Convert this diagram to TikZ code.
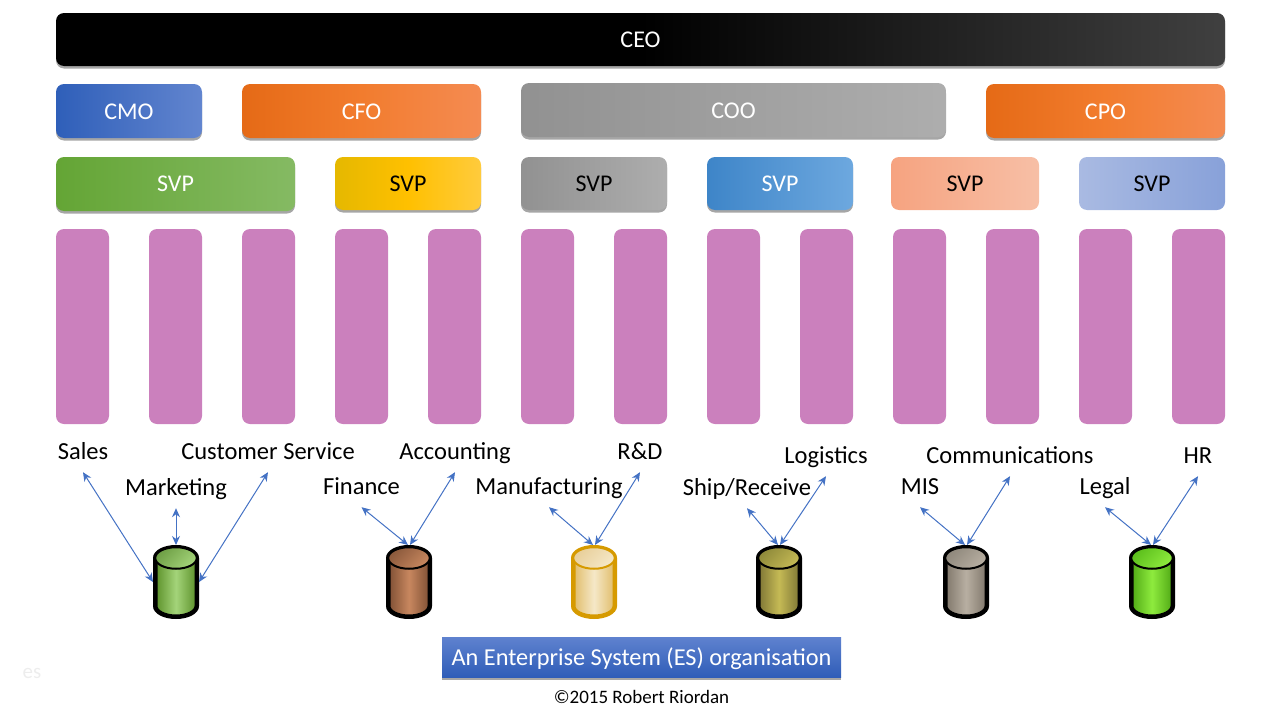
\documentclass[tikz,border=0pt]{standalone}
\usepackage{fontspec}
\setmainfont{Carlito}
\usetikzlibrary{positioning, arrows.meta, shadows}
\definecolor{Veza}{HTML}{4472C4}
\definecolor{Odjel}{HTML}{CB80BD}
\definecolor{NarA}{HTML}{E56A16}
\definecolor{NarB}{HTML}{F27C2E}
\definecolor{NarC}{HTML}{F48B52}
\definecolor{ZelA}{HTML}{5B9028}
\definecolor{ZelB}{HTML}{A4D47A}
\definecolor{ZelC}{HTML}{6E9F45}
\definecolor{SmeA}{HTML}{7E4F34}
\definecolor{SmeB}{HTML}{C8875F}
\definecolor{SmeC}{HTML}{8B5A3C}
\definecolor{ZutA}{HTML}{E0BC68}
\definecolor{ZutB}{HTML}{F5E8C8}
\definecolor{ZutC}{HTML}{E8CF9A}
\definecolor{ZutD}{HTML}{D69A00}
\definecolor{MasA}{HTML}{7D7535}
\definecolor{MasB}{HTML}{C5BA55}
\definecolor{MasC}{HTML}{8F8A3A}
\definecolor{SivA}{HTML}{7F766A}
\definecolor{SivB}{HTML}{B8AFA2}
\definecolor{SivC}{HTML}{8F887C}
\definecolor{SvjA}{HTML}{4FA815}
\definecolor{SvjB}{HTML}{8EEB3E}
\definecolor{SvjC}{HTML}{5CBF1C}
\tikzset{
  sjena/.style   = {drop shadow={shadow xshift=0pt, shadow yshift=-2.5pt, opacity=.35, fill=black}},
  kutija/.style  = {rectangle, rounded corners=8pt, inner sep=0pt, outer sep=0pt, align=center,
                    font=\fontsize{24}{28}\selectfont},
  clan/.style    = {kutija, sjena, text=white, minimum height=54pt},
  nizi/.style    = {text height=17.5pt, text depth=0pt},
  narancasta/.style = {clan, nizi, minimum width=239pt, left color=NarA, right color=NarC, middle color=NarB},
  svp/.style     = {kutija, minimum width=146pt, minimum height=53pt},
  odjel/.style   = {rectangle, rounded corners=8pt, fill=Odjel, minimum width=53pt,
                    minimum height=195pt, inner sep=0pt, outer sep=0pt},
  oznaka/.style  = {inner sep=0pt, minimum height=40pt, text height=17pt, text depth=3pt,
                    font=\fontsize{24.5}{28}\selectfont},
  baza/.style    = {rectangle, inner sep=0pt, outer sep=0pt, minimum width=46pt, minimum height=74pt},
  veza/.style    = {{Stealth[length=9pt, width=8pt]}-{Stealth[length=9pt, width=8pt]}, draw=Veza, line width=1pt},
}
% tijelo i poklopac baze: cvor, obrub, rub, sredina, poklopac
\newcommand{\valjak}[5]{
  \draw[draw=#2, line width=4.5pt, left color=#3, right color=#3, middle color=#4]
    ([xshift=-20.75pt, yshift=24pt]#1.center) -- ([xshift=-20.75pt, yshift=-24pt]#1.center)
    arc[start angle=180, end angle=360, x radius=20.75pt, y radius=10.75pt]
    -- ([xshift=20.75pt, yshift=24pt]#1.center)
    arc[start angle=0, end angle=180, x radius=20.75pt, y radius=10.75pt] -- cycle;
  \draw[draw=#2, line width=2pt, top color=#5, bottom color=#4, shading angle=45]
    ([yshift=24pt]#1.center) ellipse (20.75pt and 10.75pt);
}

\begin{document}
\begin{tikzpicture}[x=1pt, y=-1pt]
  \useasboundingbox (0,0) rectangle (1280,720);

  % uprava
  \node[clan, minimum width=1169pt, minimum height=53pt, left color=black, right color=black!75, middle color=black]
        (ceo) at (640.5,39.5) {CEO};
  \node[clan, nizi, minimum width=146pt, left color={rgb,255:red,47;green,95;blue,185}, right color={rgb,255:red,98;green,133;blue,207},
        below right=18pt and 0pt of ceo.south west]           (cmo) {CMO};
  \node[narancasta, right=40pt of cmo]                        (cfo) {CFO};
  \node[clan, nizi, minimum width=425pt, left color=black!43, right color=black!32, right=40pt of cfo, yshift=1pt] (coo) {COO};
  \node[narancasta, right=40pt of coo, yshift=-1pt]           (cpo) {CPO};

  % potpredsjednici
  \node[svp, sjena, minimum width=239pt, minimum height=54pt, text=white,
        left color={rgb,255:red,100;green,165;blue,53}, right color={rgb,255:red,133;green,186;blue,99}]
        (svp1) at (175.5,184) {SVP};
  \node[svp, sjena, left color={rgb,255:red,229;green,184;blue,0}, right color={rgb,255:red,255;green,203;blue,61},
        middle color={rgb,255:red,255;green,192;blue,0}]      (svp2) at (408,183.5) {SVP};
  \node[svp, sjena, left color=black!43, right color=black!32, right=40pt of svp2] (svp3) {SVP};
  \node[svp, sjena, text=white, left color={rgb,255:red,62;green,133;blue,200},
        right color={rgb,255:red,109;green,168;blue,223}, right=40pt of svp3]      (svp4) {SVP};
  \node[svp, minimum width=148pt, left color={rgb,255:red,246;green,163;blue,128},
        right color={rgb,255:red,247;green,191;blue,166}, right=38pt of svp4]      (svp5) {SVP};
  \node[svp, left color={rgb,255:red,169;green,186;blue,226},
        right color={rgb,255:red,136;green,161;blue,217}, right=40pt of svp5]      (svp6) {SVP};

  % odjeli
  \node[odjel]                 (o1) at (82.5,326.5) {};
  \node[odjel, right=40pt of o1]   (o2) {};
  \node[odjel, right=40pt of o2]   (o3) {};
  \node[odjel, right=40pt of o3]   (o4) {};
  \node[odjel, right=40pt of o4]   (o5) {};
  \node[odjel, right=40pt of o5]   (o6) {};
  \node[odjel, right=40pt of o6]   (o7) {};
  \node[odjel, right=40pt of o7]   (o8) {};
  \node[odjel, right=40pt of o8]   (o9) {};
  \node[odjel, right=40pt of o9]   (o10) {};
  \node[odjel, right=40pt of o10]  (o11) {};
  \node[odjel, right=40pt of o11]  (o12) {};
  \node[odjel, right=40pt of o12]  (o13) {};

  % oznake
  \node[oznaka] (sales)   at (83,452)    {Sales};
  \node[oznaka] (mark)    at (176,488)   {Marketing};
  \node[oznaka] (cust)    at (268,452)   {Customer Service};
  \node[oznaka] (fin)     at (361.5,487) {Finance};
  \node[oznaka] (acc)     at (455,452)   {Accounting};
  \node[oznaka] (manu)    at (549,487)   {Manufacturing};
  \node[oznaka] (rd)      at (640,452)   {R\&D};
  \node[oznaka] (ship)    at (747,488)   {Ship/Receive};
  \node[oznaka] (logi)    at (826,456)   {Logistics};
  \node[oznaka] (mis)     at (920,487)   {MIS};
  \node[oznaka] (comm)    at (1010,456)  {Communications};
  \node[oznaka] (legal)   at (1105,487)  {Legal};
  \node[oznaka] (hr)      at (1198,456)  {HR};

  % baze
  \node[baza] (db1) at (176,582) {};
  \node[baza] (db2) at (409,582) {};
  \node[baza] (db3) at (594,582) {};
  \node[baza] (db4) at (779,582) {};
  \node[baza] (db5) at (966,582) {};
  \node[baza] (db6) at (1152,582) {};
  \valjak{db1}{black}{ZelA}{ZelB}{ZelC}
  \valjak{db2}{black}{SmeA}{SmeB}{SmeC}
  \valjak{db3}{ZutD}{ZutA}{ZutB}{ZutC}
  \valjak{db4}{black}{MasA}{MasB}{MasC}
  \valjak{db5}{black}{SivA}{SivB}{SivC}
  \valjak{db6}{black}{SvjA}{SvjB}{SvjC}

  \draw[veza] (sales.south) -- (db1.west);
  \draw[veza] (mark.south)  -- (db1.north);
  \draw[veza] (cust.south)  -- (db1.east);
  \draw[veza] (fin.south)   -- ([xshift=-1pt]db2.north);
  \draw[veza] (acc.south)   -- ([xshift=1pt]db2.north);
  \draw[veza] (manu.south)  -- ([xshift=-1pt]db3.north);
  \draw[veza] (rd.south)    -- ([xshift=1pt]db3.north);
  \draw[veza] (ship.south)  -- ([xshift=-1pt]db4.north);
  \draw[veza] (logi.south)  -- ([xshift=1pt]db4.north);
  \draw[veza] (mis.south)   -- ([xshift=-1pt]db5.north);
  \draw[veza] (comm.south)  -- ([xshift=1pt]db5.north);
  \draw[veza] (legal.south) -- ([xshift=-1pt]db6.north);
  \draw[veza] (hr.south)    -- ([xshift=1pt]db6.north);

  % naslov
  \node[rectangle, sjena, nizi, inner sep=0pt, minimum width=399pt, minimum height=40pt, text=white,
        top color={rgb,255:red,95;green,130;blue,207}, bottom color={rgb,255:red,47;green,93;blue,184},
        font=\fontsize{24.3}{28}\selectfont] (naslov) at (641.5,657) {An Enterprise System (ES) organisation};
  \node[below=13pt of naslov, inner sep=0pt, font=\fontsize{19}{22}\selectfont] (autor) {©2015 Robert Riordan};
  \node[inner sep=0pt, text=black!7, font=\fontsize{21}{25}\selectfont] (biljeska) at (32,673) {es};
\end{tikzpicture}
\end{document}
